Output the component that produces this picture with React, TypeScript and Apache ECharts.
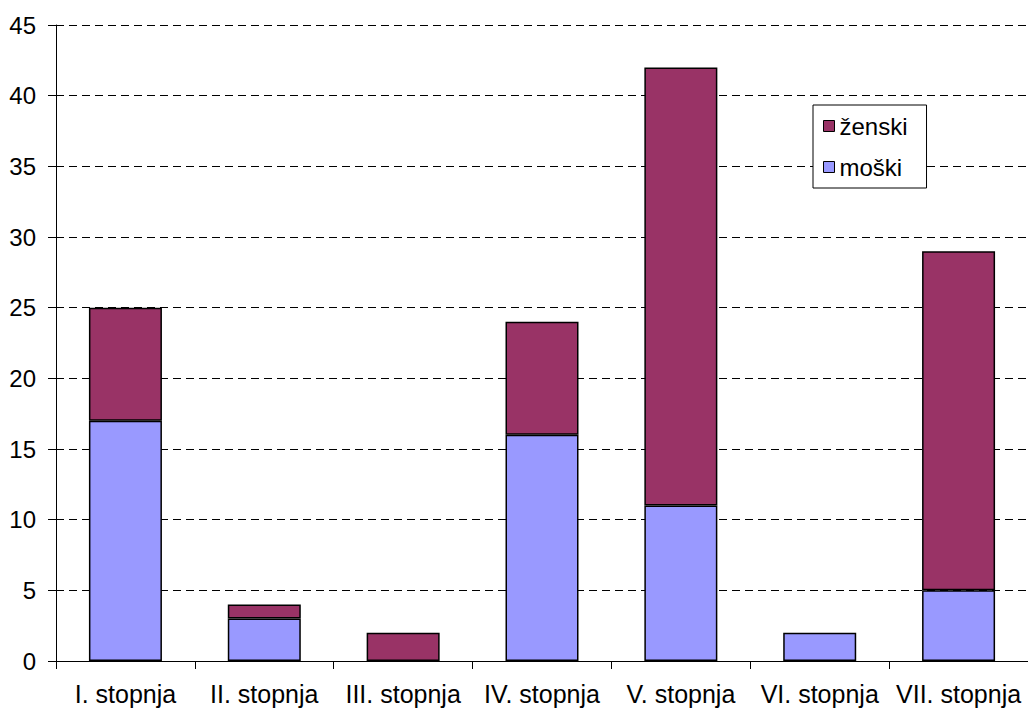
import React, { useEffect, useRef } from "react";
import * as echarts from "echarts";

const categories = ["I. stopnja", "II. stopnja", "III. stopnja", "IV. stopnja", "V. stopnja", "VI. stopnja", "VII. stopnja"];
const moski = [17, 3, 0, 16, 11, 2, 5];
const zenski = [8, 1, 2, 8, 31, 0, 24];
const yTicks = { min: 0, max: 45, interval: 5 };

const FONT = "'Liberation Sans', Arial, sans-serif";

export default function App() {
  const ref = useRef<HTMLDivElement>(null);
  useEffect(() => {
    document.body.style.margin = "0";
    const chart = echarts.init(ref.current!, null, { renderer: "svg" });
    chart.setOption({
      animation: false,
      textStyle: { fontFamily: FONT },
      grid: { left: 56, right: 0, top: 25, bottom: 48, containLabel: false },
      legend: {
        orient: "vertical",
        left: 813,
        top: 105,
        data: ["ženski", "moški"],
        itemWidth: 11,
        itemHeight: 11,
        itemGap: 17,
        backgroundColor: "#fff",
        borderColor: "#000",
        borderWidth: 1,
        padding: [9, 19, 9, 10],
        icon: "rect",
        itemStyle: { borderColor: "#000", borderWidth: 1 },
        textStyle: { fontSize: 24, color: "#000", fontFamily: FONT },
      },
      xAxis: {
        type: "category",
        data: categories,
        axisLine: { lineStyle: { color: "#000", width: 1 } },
        axisTick: { show: true, length: 8, lineStyle: { color: "#000" }, alignWithLabel: false },
        axisLabel: { fontSize: 25, color: "#000", margin: 20, fontFamily: FONT, interval: 0 },
      },
      yAxis: {
        type: "value",
        min: yTicks.min,
        max: yTicks.max,
        interval: yTicks.interval,
        axisLine: { show: true, lineStyle: { color: "#000", width: 1 } },
        axisTick: { show: true, length: 8, lineStyle: { color: "#000" } },
        axisLabel: { fontSize: 24, color: "#000", margin: 20, fontFamily: FONT },
        splitLine: { show: true, lineStyle: { color: "#000", type: [8, 5], width: 1 } },
      },
      series: [
        {
          name: "moški",
          type: "bar",
          stack: "total",
          barWidth: 73,
          data: moski.map((v) => (v === 0 ? null : v)),
          itemStyle: { color: "#9999FF", borderColor: "#000", borderWidth: 1.5 },
        },
        {
          name: "ženski",
          type: "bar",
          stack: "total",
          barWidth: 73,
          data: zenski.map((v) => (v === 0 ? null : v)),
          itemStyle: { color: "#993366", borderColor: "#000", borderWidth: 1.5 },
        },
      ],
    });
    return () => chart.dispose();
  }, []);
  return <div ref={ref} style={{ width: 1028, height: 709 }} />;
}
